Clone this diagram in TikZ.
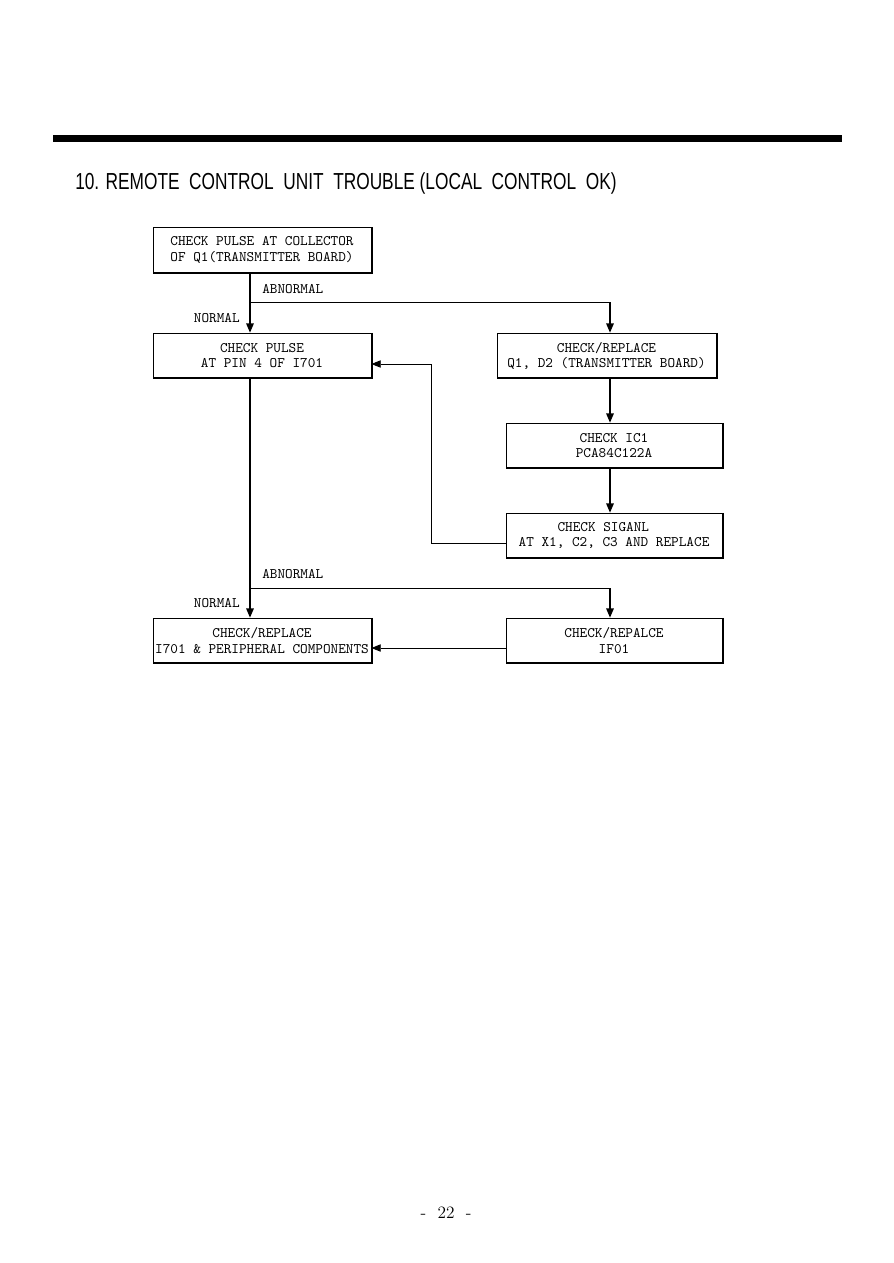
\documentclass[tikz,border=0pt]{standalone}
\usepackage{fontspec}
\newfontfamily\titlefont{Liberation Sans}
\usetikzlibrary{arrows.meta}
\begin{document}
\begin{tikzpicture}[x=0.75pt,y=-0.75pt,
  box/.style={draw, line width=0.6pt, rectangle, inner sep=0pt, align=center,
    font=\fontsize{10.9pt}{11.3pt}\ttfamily, minimum height=33.5pt},
  lbl/.style={font=\fontsize{10.9pt}{11.3pt}\ttfamily, inner sep=0pt},
  trunk/.style={line width=1.4pt},
  thin/.style={line width=0.7pt},
  arr/.style={-{Triangle[length=7pt,width=5.5pt]}}]
\useasboundingbox (0,0) rectangle (893,1263);
\fill (53,135) rectangle (842,142);
\node[anchor=west, inner sep=0pt] (title) at (75,183)
  {\resizebox{406pt}{12.6pt}{\titlefont 10. REMOTE\ \ CONTROL\ \ UNIT\ \ TROUBLE\ (LOCAL\ \ CONTROL\ \ OK)}};
\node[box, minimum width=163.5pt] (A) at (262,250) {CHECK PULSE AT COLLECTOR\\OF Q1(TRANSMITTER BOARD)};
\node[box, minimum width=163.5pt] (B) at (262,355.5) {CHECK PULSE\\AT PIN 4 OF I701};
\node[box, minimum width=164.25pt] (C) at (606.5,355.5) {CHECK/REPLACE\\Q1, D2 (TRANSMITTER BOARD)};
\node[box, minimum width=162pt] (D) at (614,445.5) {CHECK IC1\\PCA84C122A};
\node[box, minimum width=162pt] (E) at (614,535.5) {\hspace*{-16pt}CHECK SIGANL\\AT X1, C2, C3 AND REPLACE};
\node[box, minimum width=163.5pt] (F) at (262,640.5) {CHECK/REPLACE\\I701 \& PERIPHERAL COMPONENTS};
\node[box, minimum width=162pt] (G) at (614,640.5) {CHECK/REPALCE\\IF01};
\foreach \n in {A,B,C,D,E,F,G}{
  \draw[line width=0.9pt] ([xshift=0.5pt]\n.north east) -- ([xshift=0.5pt,yshift=-0.4pt]\n.south east) -- ([yshift=-0.4pt]\n.south west);
}
\node[lbl, anchor=west] (ab1) at (262,289) {ABNORMAL};
\node[lbl, anchor=east] (no1) at (240,318) {NORMAL};
\node[lbl, anchor=west] (ab2) at (262,574) {ABNORMAL};
\node[lbl, anchor=east] (no2) at (240,603) {NORMAL};
\node[font=\fontsize{13pt}{15pt}\selectfont, inner sep=0pt] (pg) at (446,1213) {-\ \ 22\ \ -};
\coordinate (j1) at (250,302);
\coordinate (j2) at (250,588);
\coordinate (cx) at (610,0);
\coordinate (fb) at (431,543);
\coordinate (fb2) at (431,364);
\coordinate (gy) at (0,648);
\draw[trunk, arr] (A.south -| j1) -- (B.north -| j1);
\draw[thin] (j1) -- (j1 -| cx);
\draw[trunk, arr] (j1 -| cx) -- (C.north -| cx);
\draw[trunk, arr] (C.south -| cx) -- (D.north -| cx);
\draw[trunk, arr] (D.south -| cx) -- (E.north -| cx);
\draw[thin, arr] (E.west |- fb) -- (fb) -- (fb2) -- (B.east |- fb2);
\draw[trunk, arr] (B.south -| j2) -- (F.north -| j2);
\draw[thin] (j2) -- (j2 -| cx);
\draw[trunk, arr] (j2 -| cx) -- (G.north -| cx);
\draw[thin, arr] (G.west |- gy) -- (F.east |- gy);
\end{tikzpicture}
\end{document}
